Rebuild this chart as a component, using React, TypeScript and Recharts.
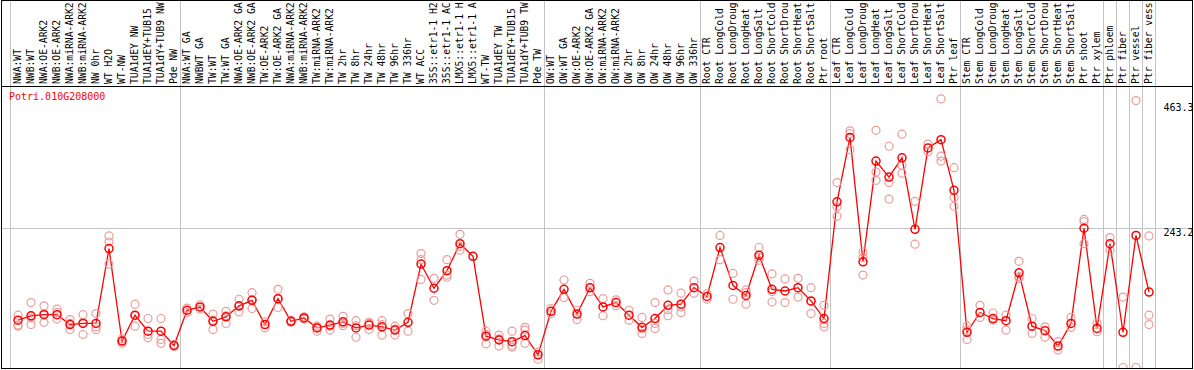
import React from "react";
import { ComposedChart, Line, XAxis, YAxis, ReferenceLine } from "recharts";

const geneId = "Potri.010G208000";

const categories = [
  "NWA:WT", "NWB:WT", "NWA:OE-ARK2", "NWB:OE-ARK2", "NWA:miRNA-ARK2", "NWB:miRNA-ARK2",
  "NW 0hr", "WT H2O", "WT-NW", "TUA1dEY NW", "TUA1dEY+TUB15", "TUA1dY+TUB9 NW", "Pde NW",
  "NWA:WT GA", "NWBWT GA", "TW:WT", "TW:WT GA", "NWA:OE-ARK2 GA", "NWB:OE-ARK2 GA",
  "TW:OE-ARK2", "TW:OE-ARK2 GA", "NWA:miRNA-ARK2", "NWB:miRNA-ARK2", "TW:miRNA-ARK2",
  "TW:miRNA-ARK2", "TW 2hr", "TW 8hr", "TW 24hr", "TW 48hr", "TW 96hr", "TW 336hr",
  "WT ACC", "35S::etr1-1 H2", "35S::etr1-1 AC", "LMX5::etr1-1 H", "LMX5::etr1-1 A",
  "WT-TW", "TUA1dEY TW", "TUA1dEY+TUB15", "TUA1dY+TUB9 TW", "Pde TW",
  "OW:WT", "OW:WT GA", "OW:OE-ARK2", "OW:OE-ARK2 GA", "OW:miRNA-ARK2", "OW:miRNA-ARK2",
  "OW 2hr", "OW 8hr", "OW 24hr", "OW 48hr", "OW 96hr", "OW 336hr",
  "Root CTR", "Root LongCold", "Root LongDroug", "Root LongHeat", "Root LongSalt",
  "Root ShortCold", "Root ShortDrou", "Root ShortHeat", "Root ShortSalt", "Ptr root",
  "Leaf CTR", "Leaf LongCold", "Leaf LongDroug", "Leaf LongHeat", "Leaf LongSalt",
  "Leaf ShortCold", "Leaf ShortDrou", "Leaf ShortHeat", "Leaf ShortSalt", "Ptr leaf",
  "Stem CTR", "Stem LongCold", "Stem LongDroug", "Stem LongHeat", "Stem LongSalt",
  "Stem ShortCold", "Stem ShortDrou", "Stem ShortHeat", "Stem ShortSalt", "Ptr shoot",
  "Ptr xylem", "Ptr phloem", "Ptr fiber", "Ptr vessel", "Ptr fiber vess",
];

const means = [
  76, 84, 86, 86, 68, 70, 70, 206, 38, 85, 56, 56, 30,
  94, 100, 74, 82, 102, 112, 68, 115, 74, 80, 62, 67, 73, 62, 67, 64, 58, 72,
  178, 134, 166, 215, 192, 47, 40, 37, 48, 13,
  92, 132, 87, 135, 100, 108, 85, 63, 79, 103, 105, 135,
  119, 208, 139, 121, 194, 132, 129, 135, 111, 79,
  291, 408, 182, 365, 336, 371, 241, 389, 404, 312,
  54, 90, 79, 75, 162, 65, 57, 29, 70, 243,
  61, 215, 54, 230, 127,
];

const rep1 = [
  85, 108, 102, 96, 77, 86, 88, 229, 34, 105, 79, 79, 28,
  98, 104, 87, 92, 114, 126, 62, 132, 72, 82, 65, 78, 83, 75, 72, 75, 65, 88,
  197, 152, 186, 232, null, 56, 49, 56, 63, 18,
  97, 149, 94, 143, 115, 113, 94, 81, 108, 131, 125, 147,
  124, 230, 161, 131, 208, 160, 151, 152, 135, 103,
  326, 420, 200, 421, 392, 414, 292, 396, 478, 353,
  65, 103, 89, 85, 183, 79, 64, 37, 81, 259,
  71, 226, 118, 475, 229,
];

const rep2 = [
  67, 68, 72, 78, 59, 50, 59, 218, 42, 65, 44, 41, 32,
  90, 96, 59, 70, 91, 97, 73, 99, 76, 78, 56, 58, 66, 45, 59, 49, 49, 56,
  150, 112, 154, 203, null, 33, 29, 27, 34, 5,
  88, 117, 77, 128, 84, 102, 76, 52, 61, 84, 90, 125,
  114, 186, 114, 105, 185, 109, 108, 118, 88, 64,
  265, 386, 158, 345, 326, 357, 214, 382, 374, 299,
  41, 81, 76, 58, 152, 52, 45, 22, 63, 215,
  55, 203, -10, -10, 85,
];

const rep3 = [
  65, 80, 88, 90, 70, 72, 64, 178, 38, 84, 50, 34, null,
  null, null, 76, 84, 101, 113, null, 115, null, null, 64, 65, 70, 66, 70, 68, 60, null,
  186, null, 158, 210, null, 50, 42, 30, 58, null,
  null, null, null, null, null, null, null, 60, 70, 95, 100, null,
  null, null, null, 126, 190, 128, null, null, 110, 70,
  282, 415, 190, 330, 296, 343, null, null, 365, 283,
  58, null, null, null, 155, null, null, null, null, 255,
  null, null, null, null, 68,
];

const groupBreaks = [-0.577, 12.5, 40.5, 52.5, 62.5, 72.5, 83.5, 84.5, 85.5, 86.5, 87.5];
const yTicks = [0, 243.2, 463.3];

const data = categories.map((name, i) => ({
  x: i,
  name,
  mean: means[i],
  r1: rep1[i],
  r2: rep2[i],
  r3: rep3[i],
}));

const mono = "'DejaVu Sans Mono', monospace";

const CategoryTick = (props: any) => {
  const { x, payload } = props;
  const tx = x + 3;
  return (
    <text x={tx} y={84} transform={`rotate(-90 ${tx} 84)`} fontFamily={mono} fontSize={9.7} fill="#000" textAnchor="start">
      {categories[payload.value]}
    </text>
  );
};

const ValueTick = (props: any) => {
  const { x, y, payload } = props;
  const shift = payload.value === 243.2 ? 4 : 0;
  return (
    <text x={x} y={y + shift} dy="0.35em" fontFamily={mono} fontSize={10} fill="#000" textAnchor="start">
      {payload.value}
    </text>
  );
};

const sepShape = (p: any) => (
  <line x1={p.x1} x2={p.x2} y1={1} y2={368} stroke="#c4c4c4" strokeWidth={1} />
);

const hShape = (p: any) => {
  const y = Math.floor(p.y1) + 0.5;
  return <line x1={2} x2={1192} y1={y} y2={y} stroke="#c4c4c4" strokeWidth={1} />;
};

const repDot = { r: 4, stroke: "#eb9c9c", strokeWidth: 1.2, fill: "none" };

export default function App() {
  return (
    <div style={{ position: "absolute", left: 0, top: 0, width: 1194, height: 370, background: "#fff" }}>
      <ComposedChart width={1194} height={370} data={data} margin={{ top: 0.5, right: 1, bottom: 2, left: 11.5 }}>
        <XAxis
          dataKey="x"
          type="number"
          orientation="top"
          height={86}
          domain={[-0.5, 87.5]}
          ticks={categories.map((_, i) => i)}
          interval={0}
          allowDataOverflow
          axisLine={false}
          tickLine={false}
          tick={CategoryTick}
        />
        <YAxis
          orientation="right"
          width={37.5}
          domain={[-10.9, 500.55]}
          ticks={yTicks}
          allowDataOverflow
          axisLine={false}
          tickLine={false}
          tick={ValueTick}
        />
        {groupBreaks.map((b) => (
          <ReferenceLine key={b} x={b} ifOverflow="visible" shape={sepShape} />
        ))}
        <ReferenceLine y={243.2} ifOverflow="visible" shape={hShape} />
        <Line dataKey="r1" stroke="none" dot={repDot} activeDot={false} isAnimationActive={false} />
        <Line dataKey="r2" stroke="none" dot={repDot} activeDot={false} isAnimationActive={false} />
        <Line dataKey="r3" stroke="none" dot={repDot} activeDot={false} isAnimationActive={false} />
        <Line
          dataKey="mean"
          stroke="#ff0000"
          strokeWidth={1.3}
          dot={{ r: 4, stroke: "#ff0000", strokeWidth: 1.5, fill: "none" }}
          activeDot={false}
          isAnimationActive={false}
        />
      </ComposedChart>
      <div style={{ position: "absolute", left: 1, top: 0, width: 1192, height: 369, border: "1px solid #000", boxSizing: "border-box", pointerEvents: "none" }} />
      <div style={{ position: "absolute", left: 1, top: 86, width: 1192, height: 1, background: "#000" }} />
      <div style={{ position: "absolute", left: 9, top: 91, fontFamily: mono, fontSize: 10, lineHeight: "12px", color: "#ff0000" }}>
        {geneId}
      </div>
    </div>
  );
}
